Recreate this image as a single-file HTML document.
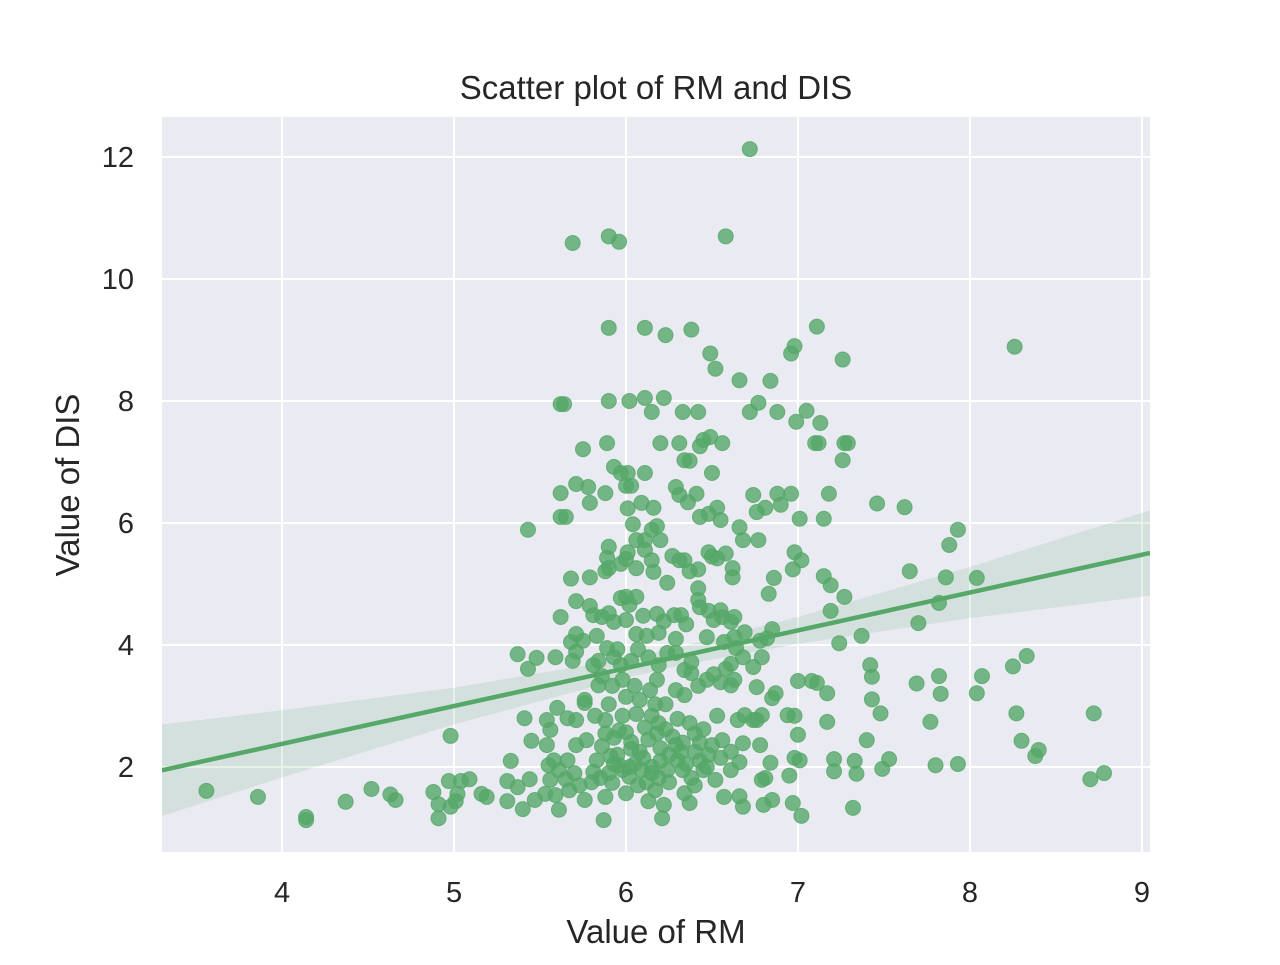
<!DOCTYPE html>
<html><head><meta charset="utf-8"><style>
body{margin:0;background:#fff;}
svg text{font-family:"Liberation Sans","DejaVu Sans",sans-serif;fill:#262626;}
</style></head><body>
<svg id="chart" width="1280" height="960" xmlns="http://www.w3.org/2000/svg">
<defs><clipPath id="clip"><rect x="162" y="117" width="988" height="735"/></clipPath></defs>
<rect x="162" y="117" width="988" height="735" fill="#eaeaf2"/>
<g id="grid"></g>
<g id="band" clip-path="url(#clip)"></g>
<g id="points" clip-path="url(#clip)"></g>
<g id="reg" clip-path="url(#clip)"></g>
<g id="ticks"></g>
<text x="656" y="99" font-size="33" text-anchor="middle">Scatter plot of RM and DIS</text>
<text x="656" y="943" font-size="33" text-anchor="middle">Value of RM</text>
<text x="0" y="0" font-size="33" text-anchor="middle" transform="translate(79,485) rotate(-90)">Value of DIS</text>
</svg>
<script>
const xTicks=[4,5,6,7,8,9];
const yTicks=[2,4,6,8,10,12];
const regIntercept=-0.10;
const regSlope=0.62;
const bandX=[3.3,4,5,6,6.3,7,8,9.05];
const bandHalfWidth=[0.75,0.55,0.3,0.16,0.15,0.22,0.42,0.7];
const rmDis=[[3.56,1.61],[3.86,1.51],[4.14,1.18],[4.14,1.13],[4.37,1.43],[4.52,1.64],[4.63,1.55],[4.66,1.46],[4.88,1.59],[4.91,1.39],[4.91,1.16],[4.97,1.77],[4.98,1.35],[4.98,2.51],[5.02,1.56],[5.04,1.77],[5.01,1.44],[5.09,1.80],[5.16,1.56],[5.19,1.51],[5.31,1.77],[5.31,1.44],[5.33,2.10],[5.37,3.85],[5.43,3.61],[5.43,5.89],[5.41,2.80],[5.45,2.43],[5.48,3.79],[5.59,3.80],[5.62,7.95],[5.64,7.95],[5.62,6.49],[5.62,6.10],[5.65,6.10],[5.62,4.46],[5.69,10.59],[5.90,10.70],[5.96,10.61],[5.90,9.20],[5.90,8.00],[6.58,10.70],[6.72,12.13],[6.11,9.20],[6.23,9.08],[6.38,9.17],[6.49,8.78],[6.52,8.53],[6.66,8.34],[6.84,8.33],[7.11,9.22],[6.96,8.78],[6.98,8.90],[7.26,8.68],[8.26,8.89],
[7.65,5.21],[7.62,6.26],[7.46,6.32],[7.70,4.36],[7.82,4.69],[7.86,5.11],[7.88,5.64],[7.93,5.89],[8.04,5.10],[8.07,3.49],[8.04,3.21],[8.25,3.65],[8.33,3.82],[8.27,2.88],[8.30,2.43],[8.40,2.28],[8.38,2.18],[8.72,2.88],[8.70,1.80],[8.78,1.90],[7.69,3.37],[7.82,3.49],[7.83,3.20],[7.77,2.74],[7.80,2.03],[7.93,2.05],[7.42,3.67],[7.43,3.48],[7.43,3.11],[7.48,2.88],[7.40,2.44],[7.53,2.13],[7.49,1.97],[7.32,1.33],[7.34,1.89],[7.33,2.10],[7.21,2.13],[7.21,1.93],[7.17,2.74],[7.17,3.21],[7.37,4.15],[7.27,4.79],[7.24,4.03],[7.19,4.56],[7.19,4.98],[7.15,5.13],[7.18,6.48],[7.15,6.07],[7.13,7.64],[7.27,7.31],[7.29,7.31],[7.26,7.03],[7.10,7.31],[7.12,7.31],[7.05,7.84],[6.99,7.66],[7.01,6.07],[6.96,6.48],[6.88,6.48],[6.90,6.30],[6.88,7.82],[6.77,7.97],[6.72,7.82],[6.98,5.52],[7.02,5.39],[6.97,5.24],[6.86,5.10],[6.83,4.84],[6.85,4.26],[6.82,4.11],[6.78,4.07],[6.79,3.80],[6.74,3.64],[6.76,3.31],[6.87,3.21],[6.85,3.13],[7.00,3.41],[7.08,3.41],[7.11,3.38],[6.94,2.85],[6.98,2.84],[7.00,2.53],[6.98,2.15],[7.01,2.11],[6.95,1.86],[6.97,1.41],[7.02,1.20],[6.85,1.46],[6.81,1.82],[6.79,1.79],[6.84,2.07],[6.80,1.38],[6.68,1.35],[6.66,1.52],[6.57,1.51],[6.78,2.36],[6.76,2.77],[6.69,2.85],[6.74,2.77],[6.79,2.85],
[6.74,6.46],[6.76,6.18],[6.81,6.25],[6.68,5.72],[6.77,5.72],[6.66,5.93],[6.62,5.26],[6.62,5.11],[6.58,5.50],[6.53,5.42],[6.48,5.52],[6.55,6.05],[6.53,6.25],[6.48,6.15],[6.50,6.82],[6.43,6.10],[6.41,6.48],[6.36,6.34],[6.29,6.59],[6.31,6.46],[6.45,7.36],[6.49,7.41],[6.43,7.26],[6.56,7.31],[6.34,7.03],[6.37,7.02],[6.31,7.31],[6.20,7.31],[6.33,7.82],[6.42,7.82],[6.22,8.05],[6.11,8.05],[6.15,7.82],[6.02,8.00],[5.75,7.21],[5.89,7.31],[5.71,6.64],[5.78,6.59],[5.79,6.33],[5.88,6.49],[5.93,6.92],[5.97,6.82],[6.01,6.82],[6.00,6.61],[6.03,6.61],[6.11,6.82],[6.09,6.33],[6.16,6.25],[6.01,6.24],[6.04,5.98],[6.15,5.89],[6.18,5.95],[6.11,5.72],[6.20,5.72],[6.06,5.72],[5.90,5.61],[5.89,5.43],[5.90,5.26],[5.88,5.21],[6.01,5.52],[6.00,5.41],[6.11,5.56],[6.15,5.39],[6.27,5.46],[6.31,5.39],[6.34,5.39],[6.37,5.21],[6.42,5.24],[6.50,5.45],[6.24,5.02],[6.16,5.20],[6.06,5.26],[5.97,5.33],[5.79,5.11],[5.68,5.09],[5.71,4.72],[5.79,4.64],[5.81,4.49],[5.86,4.46],[5.90,4.52],[5.93,4.38],[5.97,4.77],[6.00,4.79],[6.06,4.79],[6.02,4.66],[6.10,4.48],[6.00,4.41],[6.18,4.51],[6.22,4.39],[6.28,4.49],[6.32,4.49],[6.35,4.34],[6.42,4.74],[6.43,4.62],[6.42,4.93],[6.48,4.56],[6.55,4.57],[6.51,4.41],[6.56,4.46],[6.61,4.38],[6.63,4.46],[6.69,4.21],[6.47,4.13],[6.57,4.05],[6.63,4.13],[6.64,3.95],[6.68,3.80],[6.61,3.69],[6.58,3.61],[6.55,3.39],[6.61,3.34],[6.63,3.43],[6.51,3.52],[6.47,3.43],[6.42,3.33],[6.38,3.54],[6.34,3.59],[6.38,3.72],[6.29,3.87],[6.24,3.87],[6.29,4.10],[6.19,4.20],[6.12,4.15],[6.06,4.18],[6.07,3.93],[6.13,3.80],[6.19,3.67],[6.03,3.74],[5.97,3.67],[5.93,3.80],[5.95,3.93],[5.89,3.95],[5.84,3.74],[5.81,3.67],[5.75,4.07],[5.71,4.18],[5.68,4.05],[5.71,3.89],[5.69,3.74],[5.83,4.15],[5.86,3.49],[5.92,3.33],[5.98,3.43],[6.05,3.33],[6.14,3.26],[6.18,3.43],[6.29,3.26],[6.34,3.18],[6.23,3.03],[6.17,3.03],[6.08,3.10],[6.00,3.15],[5.90,3.03],[5.84,3.34],[5.76,3.05],[5.82,2.84],[5.88,2.77],[5.98,2.84],[6.06,2.87],[6.15,2.84],[6.19,2.72],[6.30,2.79],[6.37,2.72],[6.45,2.62],[6.53,2.84],[6.65,2.77],[6.50,2.36],[6.56,2.44],[6.61,2.25],[6.68,2.39],[6.66,2.08],[6.61,1.95],[6.52,1.79],[6.45,1.95],[6.38,1.82],[6.37,1.41],[6.34,1.57],[6.30,2.11],[6.29,2.36],[6.20,2.31],[6.24,1.95],[6.19,1.82],[6.17,1.62],[6.13,1.44],[6.22,1.38],[6.21,1.16],[6.12,1.75],[6.09,1.95],[6.08,2.25],[6.03,2.41],[6.00,2.57],[5.93,2.48],[5.86,2.34],[5.83,2.11],[5.81,1.92],[5.85,1.82],[5.88,1.51],[5.87,1.13],[5.92,1.74],[6.00,1.57],[6.02,1.84],[5.96,2.03],[5.91,2.18],[5.77,2.44],[5.71,2.36],[5.66,2.11],[5.61,1.95],[5.55,2.03],[5.56,1.79],[5.59,1.54],[5.61,1.30],[5.67,1.62],[5.73,1.70],[5.76,1.46],[5.53,1.56],[5.47,1.46],[5.40,1.31],[5.37,1.67],[5.44,1.80],[5.54,2.36],[5.56,2.61],[5.60,2.97],[5.66,2.80],[5.71,2.77],[5.76,3.10],[5.54,2.77],[5.58,2.11],
[5.95,2.20],[6.05,2.05],[6.10,2.15],[6.15,2.00],[6.20,2.10],[6.25,2.20],[6.35,2.05],[6.40,2.25],[6.43,2.10],[6.47,2.00],[5.98,1.95],[6.03,2.30],[6.13,2.45],[6.18,2.55],[6.27,2.50],[6.33,2.40],[6.40,2.55],[5.90,1.90],[5.80,1.75],[5.70,1.90],[5.65,1.80],[6.07,1.70],[6.25,1.75],[6.33,1.95],[6.40,1.70],[6.48,2.20],[5.88,2.55],[5.96,2.60],[6.11,2.65],[6.23,2.62],[6.32,2.25],[6.43,2.40],[6.55,2.15],[6.15,1.90],[6.02,2.00],[5.93,2.05]];
const X0=162,X1=1150,Y0=852,Y1=117,xMin=3.302,xMax=9.047,yMin=0.607,yMax=12.656;
const sx=v=>X0+(v-xMin)/(xMax-xMin)*(X1-X0);
const sy=v=>Y0-(v-yMin)/(yMax-yMin)*(Y0-Y1);
const NS='http://www.w3.org/2000/svg';
function mk(tag,attrs,parent){const e=document.createElementNS(NS,tag);for(const k in attrs)e.setAttribute(k,attrs[k]);parent.appendChild(e);return e;}
const grid=document.getElementById('grid'),ticks=document.getElementById('ticks');
xTicks.forEach(t=>{
  const l=mk('line',{x1:sx(t),x2:sx(t),y1:Y1,y2:Y0,stroke:'#fff','stroke-width':2},grid);
  
  
  const tx=mk('text',{x:sx(t),y:Y0+50,'font-size':29,'text-anchor':'middle'},ticks);
  tx.textContent=t;
  
  
});
yTicks.forEach(t=>{
  const l=mk('line',{x1:X0,x2:X1,y1:sy(t),y2:sy(t),stroke:'#fff','stroke-width':2},grid);
  
  
  const tx=mk('text',{x:X0-28,y:sy(t)+10,'font-size':29,'text-anchor':'end'},ticks);
  tx.textContent=t;
  
  
});
const line=x=>regIntercept+regSlope*x;
let up=bandX.map((x,i)=>sx(x)+','+sy(line(x)+bandHalfWidth[i]));
let lo=bandX.map((x,i)=>sx(x)+','+sy(line(x)-bandHalfWidth[i])).reverse();
const band=mk('polygon',{points:up.concat(lo).join(' '),fill:'#55a868','fill-opacity':0.15},document.getElementById('band'));


const pg=document.getElementById('points');
rmDis.forEach(p=>{
  const c=mk('circle',{cx:sx(p[0]),cy:sy(p[1]),r:7.5,fill:'#55a868','fill-opacity':0.8,stroke:'#55a868','stroke-opacity':0.8,'stroke-width':1},pg);
  
  
});
const rl=mk('line',{x1:sx(xMin),y1:sy(line(xMin)),x2:sx(xMax),y2:sy(line(xMax)),stroke:'#55a868','stroke-width':4.5},document.getElementById('reg'));


</script>
</body></html>
